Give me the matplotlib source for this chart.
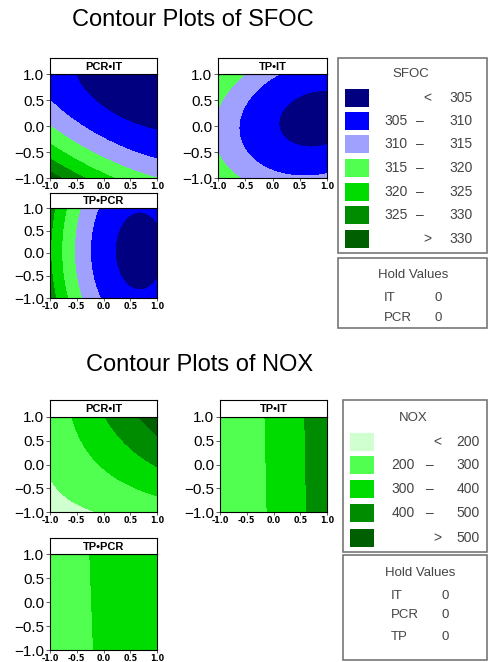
import numpy as np
import matplotlib
matplotlib.use('Agg')
import matplotlib.pyplot as plt
from matplotlib.patches import Rectangle

plt.rcParams['font.family'] = ['Liberation Sans', 'DejaVu Sans']

W, H = 488, 662
coded_ticks = [-1.0, -0.5, 0.0, 0.5, 1.0]

sfoc_breaks = [305, 310, 315, 320, 325, 330]
sfoc_colors = ['#000080', '#0000ff', '#a0a0ff', '#50ff50', '#00dc00', '#008c00', '#005f00']
nox_breaks = [200, 300, 400, 500]
nox_colors = ['#d0ffd0', '#50ff50', '#00dc00', '#008c00', '#005f00']

# quadratic response surfaces in coded units: b0, bx, by, bxx, byy, bxy
sfoc_pcr_it = [307.62, -5.25, -9.02, 2.18, 4.97, 3.59]
sfoc_tp_it = [305.57, -5.21, -0.38, 3.27, 5.63, -1.42]
sfoc_tp_pcr = [306.96, -10.61, -0.2, 7.8, 2.2, 0.0]
nox_pcr_it = [308.35, 98.50, 94.89, 0.19, -8.76, 61.39]
nox_tp_it = [317.2, 125.9, 2.4, 20.0, 0.0, 0.0]
nox_tp_pcr = [316.0, 72.0, 2.5, 0.0, 0.0, 0.0]

fig = plt.figure(figsize=(W / 100, H / 100), dpi=100)


def fx(x):
    return x / W


def fy(y):
    return 1 - y / H


def box(x0, y0, x1, y1):
    return [fx(x0), fy(y1), (x1 - x0) / W, (y1 - y0) / H]


def panel(x0, y0, x1, y1, strip_top, label, coef, breaks, colors):
    ax = fig.add_axes(box(x0, y0, x1, y1))
    g = np.linspace(-1, 1, 301)
    X, Y = np.meshgrid(g, g)
    Z = coef[0] + coef[1]*X + coef[2]*Y + coef[3]*X**2 + coef[4]*Y**2 + coef[5]*X*Y
    ax.contourf(X, Y, Z, levels=[-1e6] + breaks + [1e6], colors=colors)
    ax.set_xlim(-1, 1)
    ax.set_ylim(-1, 1)
    ax.set_xticks(coded_ticks)
    ax.set_yticks(coded_ticks)
    ax.set_xticklabels([f'{t:.1f}' for t in coded_ticks], fontsize=5.8, fontweight='bold',
                       family='DejaVu Sans')
    ax.set_yticklabels([f'{t:.1f}'.replace('-', '\u2212') for t in coded_ticks], fontsize=11)
    ax.tick_params(axis='y', length=3, width=0.6, pad=1, color='#444')
    ax.tick_params(axis='x', length=2.5, width=0.6, pad=0.5, color='#444')
    for s in ax.spines.values():
        s.set_linewidth(0.8)
    st = fig.add_axes(box(x0, strip_top, x1, y0))
    st.set_xticks([])
    st.set_yticks([])
    for s in st.spines.values():
        s.set_linewidth(0.8)
    st.text(0.5, 0.45, label, ha='center', va='center', fontsize=8, fontweight='bold')


def legend(x0, y0, x1, y1, hx1, title, breaks, colors, rows_y, sw_x, cols, hold_y, hold_names):
    fig.patches.append(Rectangle((fx(x0), fy(y1)), (x1 - x0) / W, (y1 - y0) / H,
                                 transform=fig.transFigure, fill=False, ec='#777', lw=1.2))
    fig.patches.append(Rectangle((fx(x0), fy(hold_y[-1])), (x1 - x0) / W, (hold_y[-1] - hx1) / H,
                                 transform=fig.transFigure, fill=False, ec='#777', lw=1.2))
    lc, dc, rc = cols
    fig.text(fx((x0 + x1) / 2 - 2), fy(rows_y[0] - 24), title, ha='center', va='center',
             fontsize=9.5, color='#444')
    n = len(colors)
    for i in range(n):
        y = rows_y[i]
        fig.patches.append(Rectangle((fx(sw_x), fy(y + 9)), 24 / W, 18 / H, transform=fig.transFigure,
                                     fc=colors[i], ec='none'))
        if i == 0:
            fig.text(fx(dc + 7), fy(y), '<', ha='center', va='center', fontsize=10, color='#444')
            fig.text(fx(rc), fy(y), str(breaks[0]), ha='center', va='center', fontsize=10, color='#444')
        elif i == n - 1:
            fig.text(fx(dc + 7), fy(y), '>', ha='center', va='center', fontsize=10, color='#444')
            fig.text(fx(rc), fy(y), str(breaks[-1]), ha='center', va='center', fontsize=10, color='#444')
        else:
            fig.text(fx(lc), fy(y), str(breaks[i - 1]), ha='center', va='center', fontsize=10, color='#444')
            fig.text(fx(dc), fy(y), '\u2013', ha='center', va='center', fontsize=10, color='#444')
            fig.text(fx(rc), fy(y), str(breaks[i]), ha='center', va='center', fontsize=10, color='#444')
    fig.text(fx(lc + 17), fy(hold_y[0]), 'Hold Values', ha='center', va='center', fontsize=9.5, color='#444')
    for name, y in zip(hold_names, hold_y[1:-1]):
        fig.text(fx(lc - 12), fy(y), name, ha='left', va='center', fontsize=9.5, color='#444')
        fig.text(fx(lc + 42), fy(y), '0', ha='center', va='center', fontsize=9.5, color='#444')


fig.text(fx(193), fy(20), 'Contour Plots of SFOC', ha='center', va='center', fontsize=17)
panel(50, 74, 157, 178, 58, 'PCR\u2022IT', sfoc_pcr_it, sfoc_breaks, sfoc_colors)
panel(218, 74, 327, 178, 58, 'TP\u2022IT', sfoc_tp_it, sfoc_breaks, sfoc_colors)
panel(50, 208, 157, 298, 193, 'TP\u2022PCR', sfoc_tp_pcr, sfoc_breaks, sfoc_colors)
legend(338, 58, 487, 253, 258, 'SFOC', sfoc_breaks, sfoc_colors,
       [98, 121, 144, 168, 192, 215, 239], 345, (396, 420, 461), [275, 298, 318, 328], ['IT', 'PCR'])

fig.text(fx(200), fy(365), 'Contour Plots of NOX', ha='center', va='center', fontsize=17)
panel(50, 417, 157, 512, 400, 'PCR\u2022IT', nox_pcr_it, nox_breaks, nox_colors)
panel(220, 417, 327, 512, 400, 'TP\u2022IT', nox_tp_it, nox_breaks, nox_colors)
panel(50, 554, 157, 650, 538, 'TP\u2022PCR', nox_tp_pcr, nox_breaks, nox_colors)
legend(343, 400, 487, 552, 555, 'NOX', nox_breaks, nox_colors,
       [442, 465, 489, 513, 538], 350, (403, 430, 468), [573, 596, 615, 637, 660], ['IT', 'PCR', 'TP'])

fig.savefig('out.png', dpi=100)
